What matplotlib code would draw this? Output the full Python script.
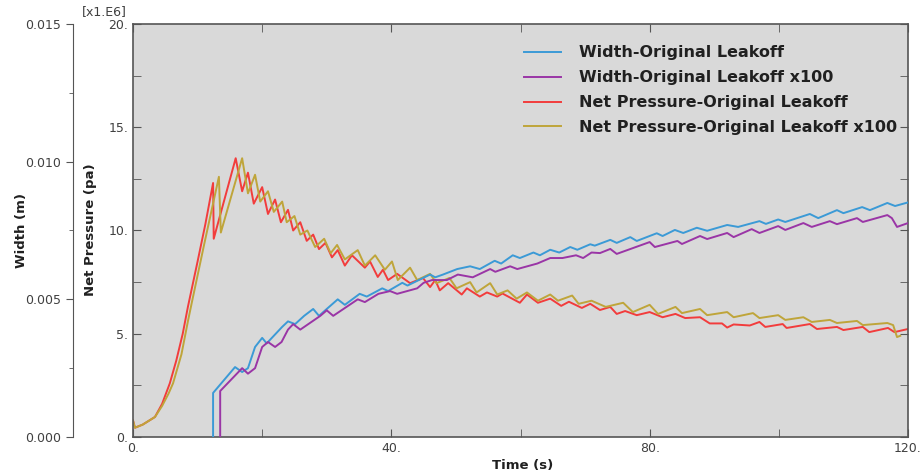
import matplotlib
matplotlib.use("Agg")
import matplotlib.pyplot as plt
from matplotlib.ticker import MultipleLocator, FuncFormatter
from matplotlib.lines import Line2D

# ---- data ----
series_labels = ["Width-Original Leakoff", "Width-Original Leakoff x100",
                 "Net Pressure-Original Leakoff", "Net Pressure-Original Leakoff x100"]

w_orig_t = [12.4, 12.4, 15.8, 16.9, 17.8, 18.9, 20.0, 20.7, 21.5, 23.1, 24.0, 25.1, 26.5, 27.9, 28.8,
            30.0, 31.7, 32.8, 35.1, 36.2, 38.6, 39.5, 41.7, 42.5, 46.0, 46.8, 48.0, 50.2, 52.2, 53.7,
            56.0, 57.0, 58.8, 59.9, 62.0, 63.0, 64.6, 66.0, 67.7, 68.8, 70.8, 71.5, 73.9, 74.9, 77.0,
            78.0, 81.1, 82.0, 83.9, 85.2, 87.3, 88.9, 92.0, 93.7, 97.0, 98.0, 99.9, 101.0, 104.8,
            106.1, 109.0, 110.0, 112.9, 114.1, 116.8, 118.0, 120.0]
w_orig_v = [0.0, 0.0016, 0.00254, 0.00236, 0.0025, 0.00327, 0.0036, 0.0034, 0.0036, 0.0040, 0.0042,
            0.0041, 0.0044, 0.00465, 0.0044, 0.00465, 0.0050, 0.0048, 0.0052, 0.0051, 0.0054, 0.0053,
            0.0056, 0.0055, 0.0059, 0.0058, 0.0059, 0.0061, 0.0062, 0.0061, 0.0064, 0.0063, 0.0066,
            0.0065, 0.0067, 0.0066, 0.0068, 0.0067, 0.0069, 0.0068, 0.0070, 0.00695, 0.00716,
            0.00705, 0.00726, 0.00712, 0.0074, 0.0073, 0.00752, 0.00741, 0.0076, 0.00749, 0.0077,
            0.00763, 0.00784, 0.00774, 0.0079, 0.00781, 0.0081, 0.00795, 0.00824, 0.00813, 0.00835,
            0.00824, 0.0085, 0.00839, 0.00852]

w_x100_t = [13.5, 13.5, 16.9, 17.8, 18.9, 20.0, 20.9, 22.0, 23.0, 24.0, 24.8, 25.9, 29.0, 30.0, 31.0,
            34.8, 35.9, 38.0, 39.8, 40.9, 44.0, 45.0, 46.3, 48.6, 50.3, 52.6, 55.3, 56.1, 58.4, 59.5,
            62.6, 64.6, 66.5, 68.6, 69.7, 71.0, 72.3, 73.9, 74.9, 80.0, 80.8, 84.3, 85.0, 87.8, 88.9,
            92.0, 93.0, 95.8, 97.0, 99.9, 101.0, 103.8, 105.1, 107.9, 109.0, 112.1, 113.0, 116.8,
            117.5, 118.3, 120.0]
w_x100_v = [0.0, 0.00167, 0.0025, 0.0023, 0.0025, 0.00327, 0.00345, 0.00327, 0.00345, 0.0039, 0.0041,
            0.0039, 0.0044, 0.0046, 0.0044, 0.0050, 0.0049, 0.0052, 0.0053, 0.0052, 0.0054, 0.0056,
            0.0057, 0.0057, 0.0059, 0.0058, 0.0061, 0.0060, 0.0062, 0.0061, 0.0063, 0.0065, 0.0065,
            0.0066, 0.0065, 0.0067, 0.00668, 0.00683, 0.00665, 0.00708, 0.0069, 0.00712, 0.00701,
            0.0073, 0.00719, 0.00741, 0.00726, 0.00755, 0.00741, 0.00766, 0.00752, 0.00777, 0.00763,
            0.00784, 0.00773, 0.00795, 0.00781, 0.00806, 0.00795, 0.00763, 0.00777]

p_orig_t = [0, 0.3, 1.5, 3.4, 4.5, 5.7, 6.7, 7.7, 8.5, 10.0, 11.2, 12.4, 12.5, 15.9, 16.9, 17.8, 18.7,
            20.0, 20.9, 22.0, 22.9, 24.0, 24.8, 25.9, 26.9, 27.9, 28.8, 29.8, 30.8, 31.7, 32.8, 33.9,
            35.9, 36.7, 37.9, 38.7, 39.5, 40.9, 42.9, 44.9, 46.0, 46.8, 47.5, 48.8, 50.9, 51.7, 53.7,
            54.8, 56.4, 57.2, 59.9, 61.0, 62.7, 64.6, 66.3, 67.5, 69.5, 70.8, 72.3, 73.9, 74.9, 76.2,
            78.0, 80.0, 82.0, 84.0, 85.5, 87.8, 89.3, 91.2, 92.0, 93.0, 95.5, 97.0, 97.9, 100.6, 101.2,
            104.8, 105.9, 109.0, 110.0, 113.0, 114.0, 116.9, 117.9, 120.0]
p_orig_v = [0.8, 0.45, 0.6, 0.97, 1.6, 2.6, 3.7, 5.0, 6.3, 8.5, 10.3, 12.3, 9.6, 13.5, 11.9, 12.8, 11.3,
            12.1, 10.8, 11.5, 10.4, 11.0, 10.0, 10.4, 9.5, 9.8, 9.1, 9.4, 8.7, 9.05, 8.3, 8.8, 8.2, 8.5,
            7.75, 8.1, 7.6, 7.9, 7.45, 7.7, 7.26, 7.6, 7.1, 7.45, 6.9, 7.2, 6.8, 7.0, 6.8, 6.95, 6.5,
            6.9, 6.5, 6.7, 6.35, 6.55, 6.25, 6.45, 6.15, 6.3, 5.96, 6.1, 5.9, 6.05, 5.8, 5.96, 5.76,
            5.8, 5.5, 5.5, 5.3, 5.45, 5.4, 5.57, 5.33, 5.47, 5.28, 5.47, 5.23, 5.33, 5.18, 5.33, 5.08,
            5.28, 5.08, 5.23]

p_x100_t = [0, 0.3, 1.5, 3.4, 4.5, 5.5, 6.2, 7.5, 8.5, 9.1, 11.0, 13.3, 13.6, 16.9, 17.8, 18.9, 19.7,
            20.9, 21.8, 23.1, 23.8, 25.0, 25.9, 27.0, 28.2, 29.6, 30.6, 31.6, 32.8, 34.8, 35.9, 37.5,
            39.0, 40.1, 41.0, 42.9, 44.0, 46.0, 47.0, 49.0, 50.1, 52.2, 53.2, 55.3, 56.4, 58.0, 59.4,
            61.0, 62.7, 64.6, 65.8, 68.0, 69.0, 71.0, 73.2, 75.9, 77.4, 80.0, 81.3, 84.0, 85.0, 87.8,
            88.9, 92.0, 93.0, 96.0, 97.0, 99.9, 101.0, 103.8, 105.1, 107.9, 109.0, 112.1, 113.0,
            116.8, 117.7, 118.3, 118.8]
p_x100_v = [0.8, 0.45, 0.6, 0.97, 1.5, 2.1, 2.6, 4.0, 5.6, 6.5, 9.3, 12.6, 9.9, 13.5, 11.8, 12.7, 11.4,
            11.9, 10.9, 11.4, 10.4, 10.7, 9.8, 10.0, 9.2, 9.6, 8.9, 9.3, 8.6, 9.05, 8.3, 8.8, 8.1, 8.5,
            7.6, 8.2, 7.6, 7.9, 7.45, 7.7, 7.2, 7.5, 7.0, 7.45, 6.9, 7.1, 6.7, 7.0, 6.6, 6.9, 6.6,
            6.85, 6.45, 6.6, 6.3, 6.5, 6.05, 6.4, 5.96, 6.3, 6.0, 6.2, 5.9, 6.05, 5.8, 6.0, 5.76, 5.9,
            5.67, 5.8, 5.57, 5.67, 5.52, 5.62, 5.42, 5.52, 5.42, 4.84, 4.9]

colors = ["#3b9ad6", "#9a35a6", "#f23c3c", "#bfa53a"]

# ---- figure ----
fig = plt.figure(figsize=(9.22, 4.76), dpi=100)
ax = fig.add_axes([133/922, 1-437/476, 775/922, 413/476])
ax.set_facecolor("#d9d9d9")

ax2 = ax.twinx()
ax2.set_ylim(0, 0.015)
ax2.spines["right"].set_visible(False)
ax2.spines["top"].set_visible(False)
ax2.spines["bottom"].set_visible(False)
ax2.spines["left"].set_visible(True)
ax2.spines["left"].set_position(("axes", (73-133)/775))
ax2.yaxis.set_ticks_position("left")
ax2.yaxis.set_label_position("left")
ax2.yaxis.set_major_locator(MultipleLocator(0.005))
ax2.yaxis.set_minor_locator(MultipleLocator(0.0025))
ax2.yaxis.set_major_formatter(FuncFormatter(lambda v, p: f"{v:.3f}"))
ax2.tick_params(axis="y", which="major", direction="out", length=5, labelsize=9,
                labelcolor="#404040", color="#555555")
ax2.tick_params(axis="y", which="minor", direction="out", length=3, color="#555555")
ax2.spines["left"].set_color("#555555")

lw = 1.4
ax.plot(p_orig_t, p_orig_v, color=colors[2], lw=lw)
ax.plot(p_x100_t, p_x100_v, color=colors[3], lw=lw)
ax2.plot(w_orig_t, w_orig_v, color=colors[0], lw=lw)
ax2.plot(w_x100_t, w_x100_v, color=colors[1], lw=lw)

ax.set_xlim(0, 120)
ax.set_ylim(0, 20)
ax.xaxis.set_major_locator(MultipleLocator(40))
ax.xaxis.set_minor_locator(MultipleLocator(20))
ax.yaxis.set_major_locator(MultipleLocator(5))
ax.yaxis.set_minor_locator(MultipleLocator(2.5))
fmt = FuncFormatter(lambda v, p: f"{int(round(v))}.")
ax.xaxis.set_major_formatter(fmt)
ax.yaxis.set_major_formatter(fmt)
ax.tick_params(which="both", direction="in", top=True, right=True, left=True, bottom=True,
               color="#555555", labelcolor="#404040", labelsize=9)
ax.tick_params(which="major", length=6)
ax.tick_params(which="minor", length=6)
for s in ax.spines.values():
    s.set_color("#555555")
    s.set_linewidth(1.2)

fig.text(22/922, 1-230/476, "Width (m)", rotation=90, ha="center", va="center",
         fontsize=9.5, fontweight="bold", color="#202020")
fig.text(90/922, 1-230/476, "Net Pressure (pa)", rotation=90, ha="center", va="center",
         fontsize=9.5, fontweight="bold", color="#202020")
fig.text(523/922, 1-465/476, "Time (s)", ha="center", va="center",
         fontsize=9.5, fontweight="bold", color="#202020")
fig.text(104/922, 1-12/476, "[x1.E6]", ha="center", va="center", fontsize=9, color="#404040")

handles = [Line2D([], [], color=c, lw=1.4) for c in colors]
ax.legend(handles, series_labels, loc="upper left", bbox_to_anchor=((510-133)/775, 1-(31-24)/413),
          frameon=False, prop={"size": 11.5, "weight": "bold"}, handlelength=2.3,
          handletextpad=1.1, labelspacing=0.62, labelcolor="#202020")

fig.savefig("out.png", dpi=100)
